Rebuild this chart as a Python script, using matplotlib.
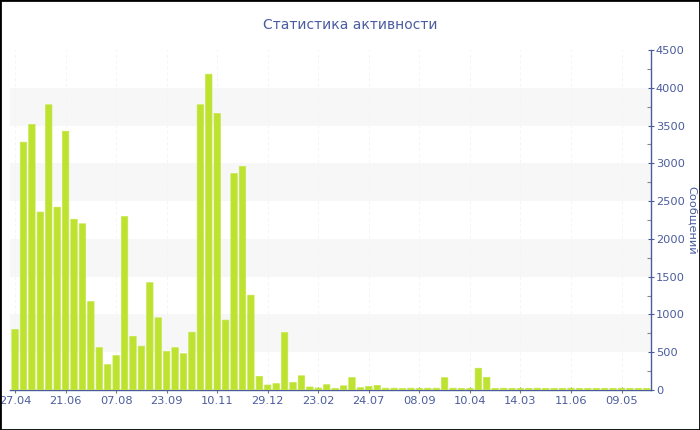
import matplotlib
matplotlib.use("Agg")
import matplotlib.pyplot as plt
from matplotlib.ticker import MultipleLocator
import numpy as np

title = "Статистика активности"
ylabel = "Сообщений"

values = [800, 3280, 3515, 2355, 3775, 2420, 3425, 2260, 2200, 1170,
          560, 335, 455, 2295, 710, 580, 1420, 955, 510, 560,
          480, 765, 3775, 4180, 3660, 925, 2865, 2960, 1255, 180,
          66, 84, 760, 100, 188, 40, 26, 70, 22, 55,
          165, 30, 48, 61, 24, 24, 20, 24, 22, 24,
          24, 163, 24, 22, 22, 288, 168, 22, 24, 22,
          22, 22, 24, 22, 22, 22, 24, 22, 22, 22,
          22, 22, 24, 22, 22, 22]
tick_labels = ["27.04", "21.06", "07.08", "23.09", "10.11", "29.12", "23.02",
               "24.07", "08.09", "10.04", "14.03", "11.06", "09.05"]
tick_step = 6

axis_color = "#4b5c9e"
bar_color = "#bde22f"

fig = plt.figure(figsize=(7.0, 4.3), dpi=100)
W, H = 700, 430
ax = fig.add_axes([10 / W, (H - 390) / H, (651 - 10) / W, (390 - 50) / H])

x = np.arange(len(values))
bars = ax.bar(x, values, width=0.76, color=bar_color, edgecolor="#c6e64a",
              linewidth=0.5, zorder=3)
for b in bars:
    b.set_snap(False)

ax.set_xlim(-0.6, len(values) - 0.5)
ax.set_ylim(0, 4500)

for lo in range(500, 4500, 1000):
    ax.axhspan(lo, lo + 500, color="#f7f7f7", zorder=0, lw=0)

ticks = np.arange(0, len(values), tick_step)[:len(tick_labels)]
ax.set_xticks(ticks)
ax.set_xticklabels(tick_labels)
for t in ticks:
    ax.axvline(t, color="#f4f4f4", lw=0.6, ls=(0, (4, 3)), zorder=1)

ax.yaxis.tick_right()
ax.yaxis.set_label_position("right")
ax.yaxis.set_major_locator(MultipleLocator(500))
ax.yaxis.set_minor_locator(MultipleLocator(250))

for s in ["top", "left"]:
    ax.spines[s].set_visible(False)
for s in ["bottom", "right"]:
    ax.spines[s].set_color(axis_color)
    ax.spines[s].set_linewidth(1.0)
    ax.spines[s].set_zorder(2)

ax.tick_params(axis="y", which="major", direction="inout", length=5, width=0.8,
               color=axis_color, labelcolor=axis_color, labelsize=8.2, pad=1)
ax.tick_params(axis="y", which="minor", direction="in", length=3, width=0.8, color="#888888")
ax.tick_params(axis="x", which="major", direction="inout", length=4, width=0.8,
               color="#777777", labelcolor=axis_color, labelsize=8.2, pad=2)

ax.set_facecolor("white")
fig.text(350 / W, 1 - 25 / H, title, ha="center", va="center", fontsize=10, color="#4b5ca0")
fig.text(692 / W, 1 - 220 / H, ylabel, ha="center", va="center", rotation=270,
         fontsize=8.2, color=axis_color)

border = plt.Rectangle((0, 0), 1, 1, transform=fig.transFigure, fill=False,
                       edgecolor="black", linewidth=2, zorder=10)
fig.patches.append(border)

fig.savefig("out.png", dpi=100)
